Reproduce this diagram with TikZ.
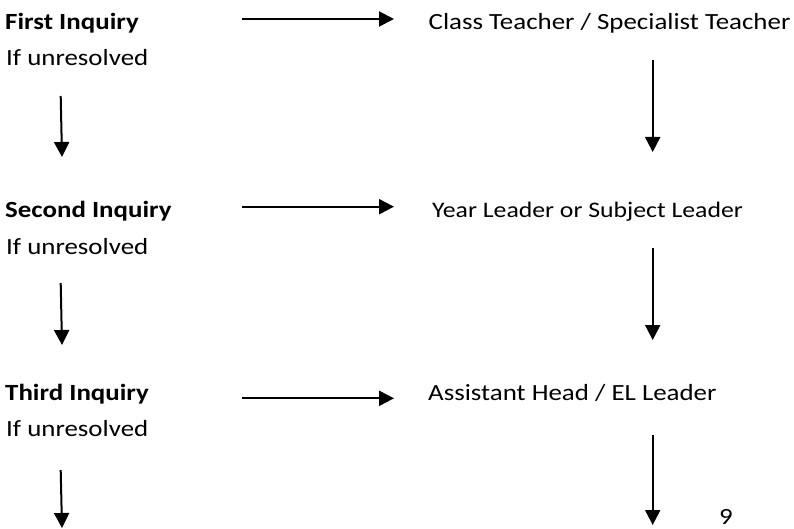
\documentclass[tikz,border=0pt]{standalone}
\usepackage{fontspec}
\setmainfont{Carlito}[FakeStretch=1.16]
\usetikzlibrary{arrows.meta}
\begin{document}
\begin{tikzpicture}[x=1pt,y=-1pt,
  lbl/.style={inner sep=0pt,anchor=base west,font=\fontsize{23.2}{28}\selectfont},
  lblb/.style={lbl,font=\fontsize{23.2}{28}\selectfont\bfseries},
  arr/.style={line width=2pt,-{Triangle[length=15pt,width=15pt]}}]
\useasboundingbox (0,0) rectangle (794,529);
% row 1
\node[lblb] (q1) at (5,29.5) {First Inquiry};
\node[lbl] (u1) at (6,66) {If unresolved};
\node[lbl] (r1) at (428.5,30) {Class Teacher / Specialist Teacher};
% row 2
\node[lblb] (q2) at (5,218) {Second Inquiry};
\node[lbl] (u2) at (6,254) {If unresolved};
\node[lbl,font=\fontsize{22.2}{27}\selectfont] (r2) at (432,218) {Year Leader or Subject Leader};
% row 3
\node[lblb] (q3) at (5,400.5) {Third Inquiry};
\node[lbl] (u3) at (6,436.5) {If unresolved};
\node[lbl] (r3) at (428,400.5) {Assistant Head / EL Leader};
% page number
\node[lbl] (pg) at (719,524.5) {9};
% arrow end points
\coordinate (h1s) at (241.7,19);   \coordinate (h1e) at (394,19);
\coordinate (h2s) at (241.7,206.7); \coordinate (h2e) at (394,206.7);
\coordinate (h3s) at (241.7,398.3); \coordinate (h3e) at (394,398.3);
\coordinate (l1s) at (60.7,96);  \coordinate (l1e) at (62,157);
\coordinate (l2s) at (60.7,283); \coordinate (l2e) at (62,345);
\coordinate (l3s) at (60.7,470); \coordinate (l3e) at (62,528);
\coordinate (d1s) at (652.7,60);  \coordinate (d1e) at (652.7,152);
\coordinate (d2s) at (652.7,248); \coordinate (d2e) at (652.7,340);
\coordinate (d3s) at (652.7,435); \coordinate (d3e) at (652.7,525);
% arrows
\draw[arr] (h1s) -- (h1e);
\draw[arr] (h2s) -- (h2e);
\draw[arr] (h3s) -- (h3e);
\draw[arr] (l1s) -- (l1e);
\draw[arr] (l2s) -- (l2e);
\draw[arr] (l3s) -- (l3e);
\draw[arr] (d1s) -- (d1e);
\draw[arr] (d2s) -- (d2e);
\draw[arr] (d3s) -- (d3e);
\end{tikzpicture}
\end{document}
